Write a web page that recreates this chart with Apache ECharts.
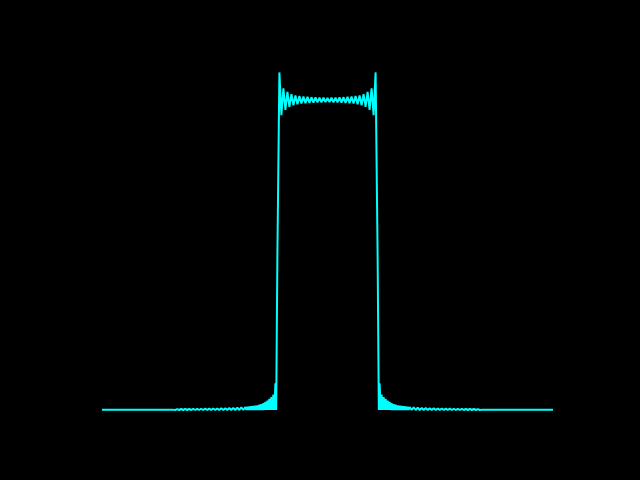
<!DOCTYPE html>
<html>
<head>
<meta charset="utf-8">
<script src="https://cdn.jsdelivr.net/npm/echarts@6/dist/echarts.min.js"></script>
<style>html,body{margin:0;padding:0;background:#000;}#c{width:640px;height:480px;}</style>
</head>
<body>
<div id="c"></div>
<script>
// Left tail (outside the pulse), x ascending
var leftX = [-4.50, -3.10, -3.04, -3.00, -2.96, -2.92, -2.88, -2.84, -2.80, -2.76, -2.72, -2.68, -2.64, -2.60, -2.56, -2.52, -2.48, -2.44, -2.40, -2.36, -2.32, -2.28, -2.24, -2.20, -2.16, -2.12, -2.08, -2.04, -2.00, -1.96, -1.92, -1.88, -1.84, -1.80, -1.76, -1.72, -1.68, -1.64, -1.62, -1.60, -1.58, -1.56, -1.54, -1.52, -1.50, -1.48, -1.46, -1.44, -1.42, -1.40, -1.38, -1.36, -1.34, -1.32, -1.30, -1.28, -1.26, -1.24, -1.22, -1.20, -1.18, -1.16, -1.14, -1.12, -1.10, -1.08, -1.06, -1.04, -1.024, -1.00];
var leftY = [0.0008, 0.0012, 0, 0.0030, 0, 0.0032, 0, 0.0033, 0, 0.0035, 0, 0.0036, 0, 0.0038, 0, 0.0041, 0, 0.0043, 0, 0.0045, 0, 0.0048, 0, 0.0051, 0, 0.0055, 0, 0.0059, 0, 0.0064, 0, 0.0070, 0, 0.0077, 0, 0.0085, 0, 0.0095, 0, 0.0102, 0, 0.0109, 0, 0.0117, 0, 0.0126, 0, 0.0137, 0, 0.0150, 0, 0.0170, 0, 0.0190, 0, 0.0220, 0, 0.0260, 0, 0.0300, 0, 0.0360, 0, 0.0420, 0, 0.0500, 0, 0.0860, 0, 0.5];

// Plateau (inside the pulse)
var plateauX = [-0.96, -0.92, -0.88, -0.84, -0.80, -0.76, -0.72, -0.68, -0.64, -0.60, -0.56, -0.52, -0.48, -0.44, -0.40, -0.36, -0.32, -0.28, -0.24, -0.20, -0.16, -0.12, -0.08, -0.04, 0.00, 0.04, 0.08, 0.12, 0.16, 0.20, 0.24, 0.28, 0.32, 0.36, 0.40, 0.44, 0.48, 0.52, 0.56, 0.60, 0.64, 0.68, 0.72, 0.76, 0.80, 0.84, 0.88, 0.92, 0.96];
var plateauY = [1.089, 0.951, 1.038, 0.968, 1.026, 0.978, 1.019, 0.983, 1.015, 0.986, 1.013, 0.989, 1.011, 0.990, 1.010, 0.9907, 1.009, 0.9915, 1.0082, 0.992, 1.0077, 0.9926, 1.0073, 0.993, 1.007, 0.993, 1.0073, 0.9926, 1.0077, 0.992, 1.0082, 0.9915, 1.009, 0.9907, 1.010, 0.990, 1.011, 0.989, 1.013, 0.986, 1.015, 0.983, 1.019, 0.978, 1.026, 0.968, 1.038, 0.951, 1.089];

// Right tail (outside the pulse), x ascending
var rightX = [1.00, 1.024, 1.04, 1.06, 1.08, 1.10, 1.12, 1.14, 1.16, 1.18, 1.20, 1.22, 1.24, 1.26, 1.28, 1.30, 1.32, 1.34, 1.36, 1.38, 1.40, 1.42, 1.44, 1.46, 1.48, 1.50, 1.52, 1.54, 1.56, 1.58, 1.60, 1.62, 1.64, 1.68, 1.72, 1.76, 1.80, 1.84, 1.88, 1.92, 1.96, 2.00, 2.04, 2.08, 2.12, 2.16, 2.20, 2.24, 2.28, 2.32, 2.36, 2.40, 2.44, 2.48, 2.52, 2.56, 2.60, 2.64, 2.68, 2.72, 2.76, 2.80, 2.84, 2.88, 2.92, 2.96, 3.00, 3.04, 3.10, 4.50];
var rightY = [0.5, 0, 0.0860, 0, 0.0500, 0, 0.0420, 0, 0.0360, 0, 0.0300, 0, 0.0260, 0, 0.0220, 0, 0.0190, 0, 0.0170, 0, 0.0150, 0, 0.0137, 0, 0.0126, 0, 0.0117, 0, 0.0109, 0, 0.0102, 0, 0.0095, 0, 0.0085, 0, 0.0077, 0, 0.0070, 0, 0.0064, 0, 0.0059, 0, 0.0055, 0, 0.0051, 0, 0.0048, 0, 0.0045, 0, 0.0043, 0, 0.0041, 0, 0.0038, 0, 0.0036, 0, 0.0035, 0, 0.0033, 0, 0.0032, 0, 0.0030, 0, 0.0012, 0.0008];

var xs = leftX.concat(plateauX, rightX);
var ys = leftY.concat(plateauY, rightY);
var data = xs.map(function (x, i) { return [x, ys[i]]; });

var chart = echarts.init(document.getElementById('c'), null, {renderer: 'canvas'});
chart.setOption({
  backgroundColor: '#000000',
  animation: false,
  grid: {left: 102, right: 87, top: 38, bottom: 70},
  xAxis: {type: 'value', min: -4.5, max: 4.5, show: false, splitLine: {show: false}},
  yAxis: {type: 'value', min: 0, max: 1.2, show: false, splitLine: {show: false}},
  series: [{
    type: 'line',
    data: data,
    showSymbol: false,
    symbol: 'none',
    lineStyle: {color: '#00ffff', width: 2},
    itemStyle: {color: '#00ffff'}
  }]
});
</script>
</body>
</html>
